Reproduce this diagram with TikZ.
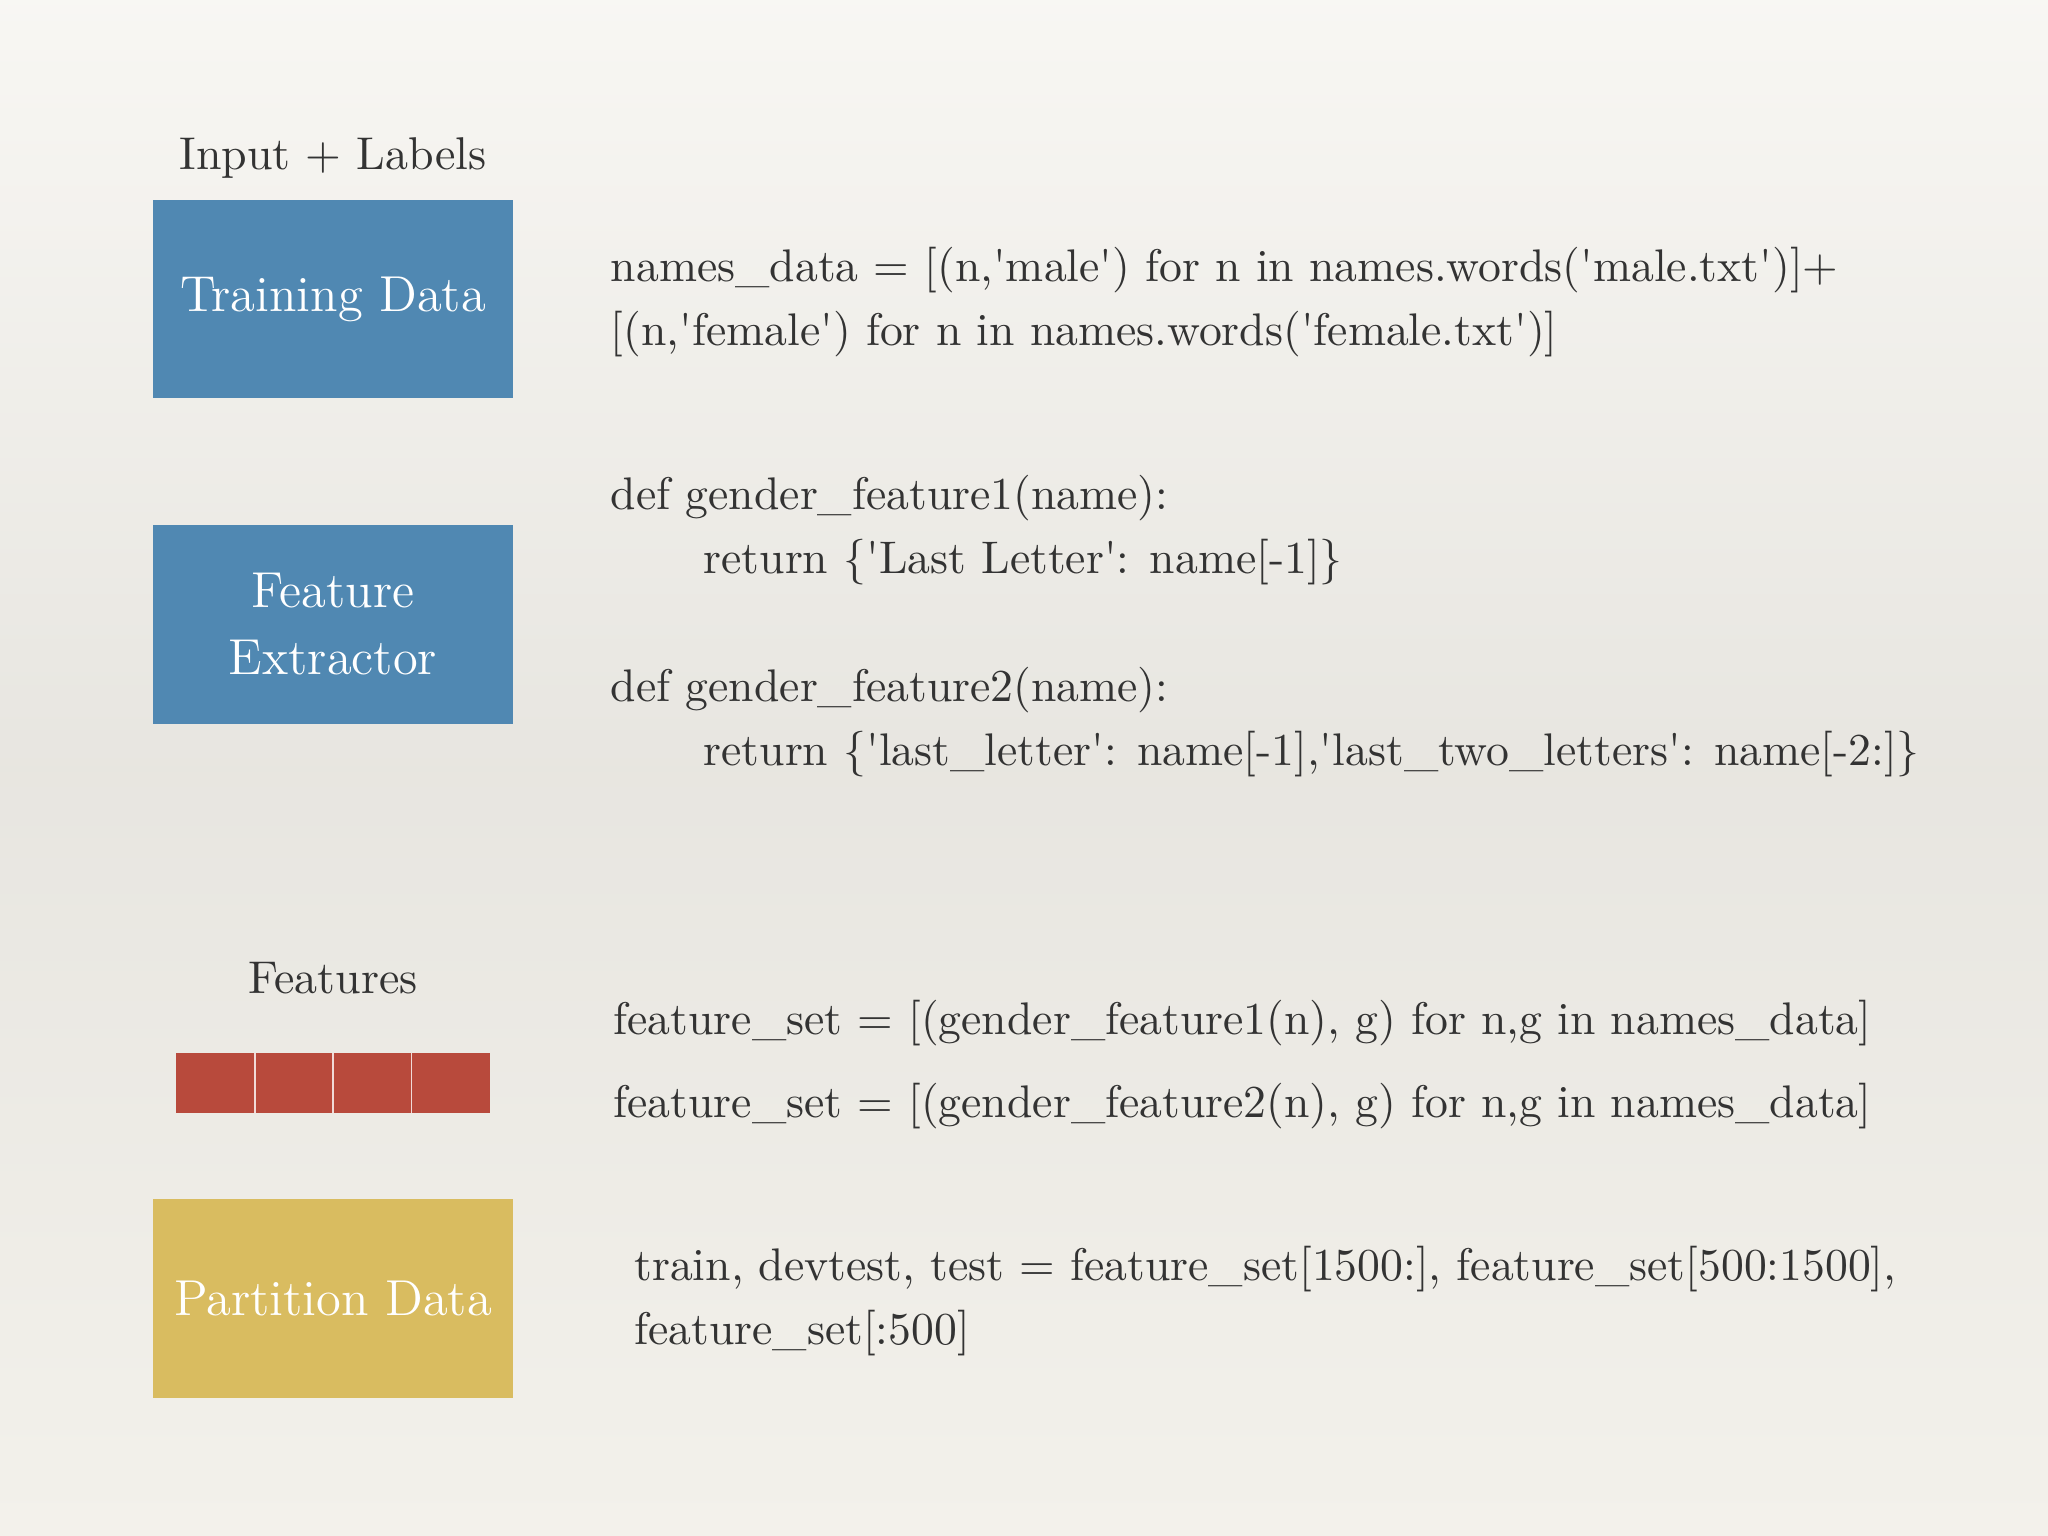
\documentclass[tikz,border=0pt]{standalone}
\usetikzlibrary{shadows}
\definecolor{bgc}{HTML}{F3F1EB}
\definecolor{boxblue}{HTML}{5088B2}
\definecolor{boxred}{HTML}{B84A3C}
\definecolor{boxyel}{HTML}{D9BC60}
\definecolor{txt}{HTML}{333333}
\newcommand{\qq}{\textquotesingle}
\begin{document}
\begin{tikzpicture}[x=0.01cm,y=-0.01cm,
  box/.style={draw=none,minimum width=2.76cm,minimum height=1.52cm,inner sep=0pt,
    text=white,font=\fontsize{11}{14.5}\selectfont,align=center},
  code/.style={anchor=west,text=txt,font=\fontsize{9.95}{12}\selectfont,inner sep=0pt},
  lbl/.style={text=txt,font=\fontsize{10}{12}\selectfont}]
\fill[top color=bgc!60!white,bottom color=bgc,middle color=bgc!90!gray] (0,0) rectangle (1568,1176);
\useasboundingbox (0,0) rectangle (1568,1176);
\node[lbl] (l1) at (255,121) {Input + Labels};
\node[box,fill=boxblue] (td) at (255,229) {Training Data};
\node[box,fill=boxblue] (fe) at (255,478) {Feature\\Extractor};
\node[lbl] (l2) at (255,749) {Features};
\node[draw=none,fill=boxred,minimum width=2.4cm,minimum height=0.46cm,inner sep=0pt] (fb) at (255,829) {};
\foreach \x in {195,255,315} \draw[white!80!boxred,line width=0.4pt] (\x,806) -- (\x,852);
\node[box,fill=boxyel] (pd) at (255,994) {Partition Data};
\node[code] (c1) at (467,207) {names\_data = [(n,\qq male\qq) for n in names.words(\qq male.txt\qq)]+};
\node[code] (c2) at (467,256) {[(n,\qq female\qq) for n in names.words(\qq female.txt\qq)]};
\node[code] (c3) at (467,381) {def gender\_feature1(name):};
\node[code] (c4) at (538,430) {return \{\qq Last Letter\qq: name[-1]\}};
\node[code] (c5) at (467,528) {def gender\_feature2(name):};
\node[code] (c6) at (538,577) {return \{\qq last\_letter\qq: name[-1],\qq last\_two\_letters\qq: name[-2:]\}};
\node[code] (c7) at (469,783) {feature\_set = [(gender\_feature1(n), g) for n,g in names\_data]};
\node[code] (c8) at (469,847) {feature\_set = [(gender\_feature2(n), g) for n,g in names\_data]};
\node[code] (c9) at (485,972) {train, devtest, test = feature\_set[1500:], feature\_set[500:1500],};
\node[code] (c10) at (485,1021) {feature\_set[:500]};
\end{tikzpicture}
\end{document}
